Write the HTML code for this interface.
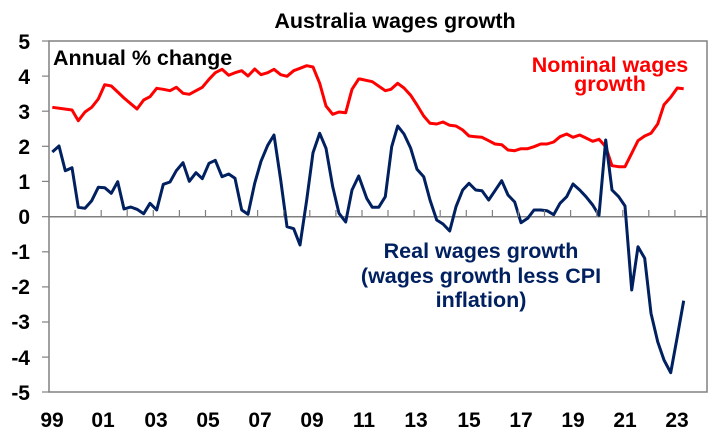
<!DOCTYPE html>
<html><head><meta charset="utf-8"><style>
body{margin:0;background:#fff;}
svg{display:block;font-family:"Liberation Sans",Arial,sans-serif;font-weight:bold;}
</style></head><body>
<svg width="725" height="442" viewBox="0 0 725 442" xmlns="http://www.w3.org/2000/svg">
<rect x="0" y="0" width="725" height="442" fill="#fff"/>
<text x="395" y="28" font-size="21.5" text-anchor="middle" fill="#000">Australia wages growth</text>
<rect x="49" y="41" width="658" height="351" fill="none" stroke="#808080" stroke-width="1.5"/>
<line x1="49" y1="216.7" x2="707" y2="216.7" stroke="#808080" stroke-width="1.5"/>
<g stroke="#808080" stroke-width="1.2">
<line x1="42" y1="41" x2="49" y2="41"/><line x1="42" y1="76.1" x2="49" y2="76.1"/><line x1="42" y1="111.2" x2="49" y2="111.2"/><line x1="42" y1="146.3" x2="49" y2="146.3"/><line x1="42" y1="181.4" x2="49" y2="181.4"/><line x1="42" y1="216.7" x2="49" y2="216.7"/><line x1="42" y1="251.8" x2="49" y2="251.8"/><line x1="42" y1="286.9" x2="49" y2="286.9"/><line x1="42" y1="322" x2="49" y2="322"/><line x1="42" y1="357.1" x2="49" y2="357.1"/><line x1="42" y1="392" x2="49" y2="392"/>
</g>
<g font-size="21" text-anchor="end" fill="#000">
<text x="30" y="49">5</text><text x="30" y="84">4</text><text x="30" y="119">3</text><text x="30" y="154">2</text><text x="30" y="189">1</text><text x="30" y="224">0</text><text x="30" y="259">-1</text><text x="30" y="294">-2</text><text x="30" y="329">-3</text><text x="30" y="365">-4</text><text x="30" y="400">-5</text>
</g>
<g font-size="21" text-anchor="middle" fill="#000">
<text x="52" y="427">99</text><text x="103" y="427">01</text><text x="156" y="427">03</text><text x="208" y="427">05</text><text x="260" y="427">07</text><text x="312" y="427">09</text><text x="364" y="427">11</text><text x="416" y="427">13</text><text x="469" y="427">15</text><text x="521" y="427">17</text><text x="573" y="427">19</text><text x="625" y="427">21</text><text x="677" y="427">23</text>
</g>
<text x="53" y="65" font-size="21.5" fill="#000">Annual % change</text>
<g font-size="21.5" text-anchor="middle" fill="#ff0000"><text x="610" y="72">Nominal wages</text><text x="610" y="91">growth</text></g>
<g font-size="21.5" text-anchor="middle" fill="#002060"><text x="481" y="258">Real wages growth</text><text x="481" y="283">(wages growth less CPI</text><text x="481" y="307">inflation)</text></g>
<polyline fill="none" stroke="#ff0000" stroke-width="3" stroke-linejoin="round" points="52.3,107.3 72,110 78.3,120.7 85,112 91.7,107.3 98.3,99 104.7,84.7 111.3,86 117.7,92 124,98 130.7,103.7 137,109 143.7,100 150,96.7 156.7,88.3 163.3,89.3 170,90.7 176.3,87.3 183,93.3 189.3,94.3 196,90.7 202.3,87.3 209,79.3 215.3,72.7 222,69.3 228.7,75.3 235,72.7 241.7,70.7 248,76 254.7,69 261,74.7 267.7,72.7 274,69.3 280.7,74.7 287,76.3 293.7,70.7 300,68.3 306.7,65.7 313,67 319.7,83.3 326,106 332.7,114.3 339,112 345.7,112.7 352,89.3 358.7,79 360,79 372.3,81.7 385.3,90.7 391,89.3 397.7,83.3 404,88 410.7,95.3 417,105 423.7,116 430,123.3 436.7,124 443,122 449.7,125.3 456,126 462.7,130 469,136 475.7,136.7 482,137.3 488.7,140.7 495,144 501.7,144.7 508,150 514.7,150.7 521,148.7 527.7,148.7 534,146.7 540.7,144 547,144 553.7,142 560,136.7 566.7,134 573,137.3 579.7,135 586,138 592.7,141.3 599,139.3 605.7,146.7 612,165.7 618.7,166.7 625,166.7 631.7,153.3 638,140.7 644.7,136 651,133.3 657.7,124 664,104.7 670.7,97.3 677.3,88 683.7,88.7"/>
<polyline fill="none" stroke="#002060" stroke-width="3" stroke-linejoin="round" points="52.3,152 59,146 65.3,170.7 72,167.7 78.3,207.3 85,208.3 91.7,200.7 98.3,187.3 104.7,187.7 111.3,193.3 117.7,181.7 124,209 130.7,207 137,209.3 143.7,213.7 150,203.3 156.7,210 163.3,184.3 170,182 176.3,170.7 183,162.7 189.3,181.3 196,172.7 202.3,178.7 209,163.3 215.3,160.3 222,176.7 228.7,174 235,178.3 241.7,210 248,214.3 254.7,183.3 261,161.3 267.7,145.3 274,135 280.7,180 287,226.7 293.7,228.7 300,245 306.7,200 313,152.7 319.7,133.3 326,148.3 332.7,186.7 339,213.3 345.7,222 352,190 358.7,176 366.7,198.3 372.3,207.3 378.7,207.3 385.3,196.7 391.7,146.7 397.7,126 404,134 410.7,148.3 417,169.3 423.7,176.7 430,200 436.7,220 443,224 449.7,231 456,206.7 462.7,190 469,183.3 475.7,190 482,190.7 488.7,200 495,190.7 501.7,180.7 508,195 514.7,202 521,222.7 527.7,218.3 534,210 540.7,210 547,210.7 553.7,214.7 560,203.3 566.7,196.7 573,184 579.7,190 586,196.7 592.7,205 599,215.3 605.7,140 612,190 618.7,196.7 625,206 631.7,290 638,246.7 644.7,258.3 651,313.3 657.7,341.7 664,360 670.7,372.7 677.3,336.7 683.7,300.7"/>
<g stroke="#808080" stroke-width="1.2">
<line x1="75.1" y1="210" x2="75.1" y2="216.7"/><line x1="101.2" y1="210" x2="101.2" y2="216.7"/><line x1="127.2" y1="210" x2="127.2" y2="216.7"/><line x1="153.3" y1="210" x2="153.3" y2="216.7"/><line x1="179.4" y1="210" x2="179.4" y2="216.7"/><line x1="205.5" y1="210" x2="205.5" y2="216.7"/><line x1="231.6" y1="210" x2="231.6" y2="216.7"/><line x1="257.6" y1="210" x2="257.6" y2="216.7"/><line x1="283.7" y1="210" x2="283.7" y2="216.7"/><line x1="309.8" y1="210" x2="309.8" y2="216.7"/><line x1="335.9" y1="210" x2="335.9" y2="216.7"/><line x1="362" y1="210" x2="362" y2="216.7"/><line x1="388" y1="210" x2="388" y2="216.7"/><line x1="414.1" y1="210" x2="414.1" y2="216.7"/><line x1="440.2" y1="210" x2="440.2" y2="216.7"/><line x1="466.3" y1="210" x2="466.3" y2="216.7"/><line x1="492.4" y1="210" x2="492.4" y2="216.7"/><line x1="518.4" y1="210" x2="518.4" y2="216.7"/><line x1="544.5" y1="210" x2="544.5" y2="216.7"/><line x1="570.6" y1="210" x2="570.6" y2="216.7"/><line x1="596.7" y1="210" x2="596.7" y2="216.7"/><line x1="622.8" y1="210" x2="622.8" y2="216.7"/><line x1="648.8" y1="210" x2="648.8" y2="216.7"/><line x1="674.9" y1="210" x2="674.9" y2="216.7"/><line x1="701" y1="210" x2="701" y2="216.7"/>
</g>
</svg>
</body></html>
